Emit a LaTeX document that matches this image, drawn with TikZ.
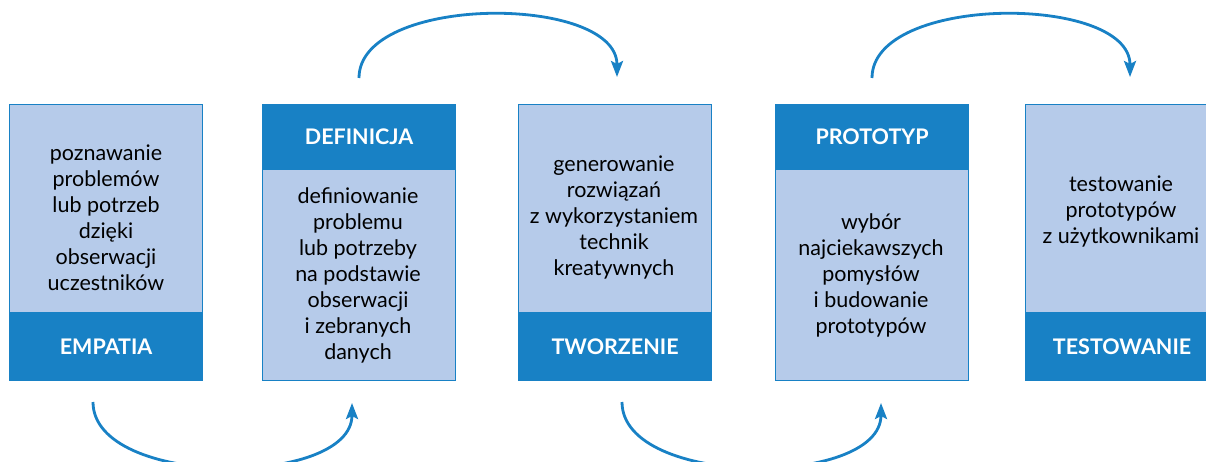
\documentclass[tikz,border=0pt]{standalone}
\usepackage{fontspec}
\setmainfont{Lato}
\usetikzlibrary{arrows.meta}
\definecolor{dblue}{RGB}{24,129,197}
\definecolor{lblue}{RGB}{182,203,234}
\tikzset{
  body/.style={draw=dblue, fill=lblue, line width=1.2pt, minimum width=193pt, minimum height=276pt, anchor=north west, inner sep=0pt},
  band/.style={fill=dblue, minimum width=193pt, inner sep=0pt, text=white, font=\fontsize{21.5}{24}\selectfont\bfseries},
  txt/.style={align=center, text=black, font=\fontsize{21.5}{26}\selectfont, inner sep=0pt},
  flow/.style={draw=dblue, line width=2.8pt, -{Stealth[length=16pt,width=12pt,inset=3pt]}}
}
\begin{document}
\begin{tikzpicture}[x=1pt,y=-1pt]
\clip (0,0) rectangle (1206,462);
\fill[white] (0,0) rectangle (1206,462);
% boxes
\node[body] (b1) at (9,104) {};
\node[body] (b2) at (262,104) {};
\node[body] (b3) at (518,104) {};
\node[body] (b4) at (775,104) {};
\node[body] (b5) at (1025,104) {};
% bands
\node[band, anchor=south, minimum height=69pt] (h1) at (b1.south) {EMPATIA};
\node[band, anchor=north, minimum height=66pt] (h2) at (b2.north) {DEFINICJA};
\node[band, anchor=south, minimum height=69pt] (h3) at (b3.south) {TWORZENIE};
\node[band, anchor=north, minimum height=66pt] (h4) at (b4.north) {PROTOTYP};
\node[band, anchor=south, minimum height=69pt] (h5) at (b5.south) {TESTOWANIE};
% texts
\node[txt] (t1) at (106,218) {poznawanie\\problemów\\lub potrzeb\\dzięki\\obserwacji\\uczestników};
\node[txt] (t2) at (358,275) {definiowanie\\problemu\\lub potrzeby\\na podstawie\\obserwacji\\i zebranych\\danych};
\node[txt] (t3) at (614,218) {generowanie\\rozwiązań\\z wykorzystaniem\\technik\\kreatywnych};
\node[txt] (t4) at (871,275) {wybór\\najciekawszych\\pomysłów\\i budowanie\\prototypów};
\node[txt] (t5) at (1121,212) {testowanie\\prototypów\\z użytkownikami};
% arrows
\coordinate (a1s) at (93,402);
\coordinate (a1e) at (352,403);
\coordinate (a2s) at (359,78);
\coordinate (a2e) at (617,77);
\coordinate (a3s) at (622,402);
\coordinate (a3e) at (881,403);
\coordinate (a4s) at (872,78);
\coordinate (a4e) at (1130,77);
\draw[flow] (a1s) .. controls (93,488) and (352,488) .. (a1e);
\draw[flow] (a2s) .. controls (359,-6) and (617,-6) .. (a2e);
\draw[flow] (a3s) .. controls (622,488) and (881,488) .. (a3e);
\draw[flow] (a4s) .. controls (872,-6) and (1130,-6) .. (a4e);
\end{tikzpicture}
\end{document}
